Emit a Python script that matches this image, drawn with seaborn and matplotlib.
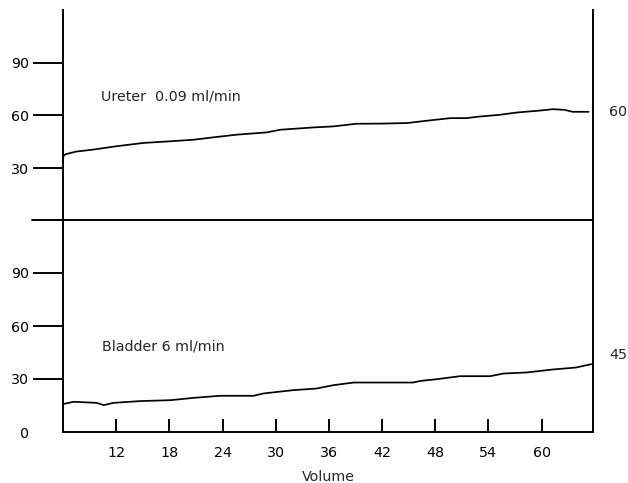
import numpy as np
import pandas as pd
import matplotlib
matplotlib.use("Agg")
import matplotlib.pyplot as plt
import seaborn as sns

# Ureter pressure trace (top panel)
ureter_volume = [6.0, 6.05, 6.3, 7.5, 9.4, 12.0, 15.1, 18.0, 20.7, 23.0, 25.6, 29.0, 30.5, 34.2, 36.5, 39.1,
                 42.0, 44.8, 47.0, 49.7, 51.5, 53.0, 55.3, 57.2, 59.8, 61.3, 62.6, 63.5, 65.3]
ureter_value = [34.5, 37.0, 38.0, 39.5, 40.6, 42.5, 44.4, 45.3, 46.2, 47.6, 49.1, 50.4, 51.9, 53.2, 53.8, 55.3,
                55.4, 55.7, 57.0, 58.5, 58.5, 59.4, 60.4, 61.7, 62.8, 63.6, 63.2, 62.1, 62.1]

# Bladder pressure trace (bottom panel)
bladder_volume = [6.0, 7.2, 9.8, 10.6, 11.7, 14.7, 18.1, 20.7, 23.7, 27.5, 28.6, 32.0, 34.6, 36.5, 38.8,
                  45.5, 46.3, 48.2, 50.8, 54.2, 55.7, 58.3, 61.3, 63.9, 65.6]
bladder_value = [15.8, 17.1, 16.5, 15.2, 16.5, 17.5, 18.0, 19.3, 20.5, 20.5, 21.8, 23.7, 24.6, 26.5, 28.0,
                 28.0, 28.9, 29.9, 31.6, 31.6, 33.1, 33.7, 35.4, 36.5, 38.4]

x_ticks = [12, 18, 24, 30, 36, 42, 48, 54, 60]
top_yticks = [30, 60, 90]
top_ylabels = ["30", "60", "90"]
bottom_yticks = [0, 30, 60, 90]
bottom_ylabels = ["0", "30", "60", "90"]

ureter_label = "Ureter  0.09 ml/min"
bladder_label = "Bladder 6 ml/min"
ureter_end_label = "60"
bladder_end_label = "45"
x_label = "Volume"

sns.set_style("white")
plt.rcParams['font.family'] = ['DejaVu Sans']
FS = 10.3

ureter_df = pd.DataFrame({"Volume": ureter_volume, "Pressure": ureter_value})
bladder_df = pd.DataFrame({"Volume": bladder_volume, "Pressure": bladder_value})

fig = plt.figure(figsize=(6.28, 4.83), dpi=100)
W, H = 628, 483
left, right = 63 / W, 593 / W
ax_top = fig.add_axes([left, 1 - 221 / H, right - left, 211 / H])
ax_bot = fig.add_axes([left, 1 - 432 / H, right - left, 212 / H])

lw_axis = 1.4
for ax, df in [(ax_top, ureter_df), (ax_bot, bladder_df)]:
    sns.lineplot(data=df, x="Volume", y="Pressure", ax=ax, color="black", linewidth=1.25)
    ax.set_xlim(6, 65.8)
    ax.set_ylim(0, 120)
    ax.set_xlabel("")
    ax.set_ylabel("")
    for s in ["left", "right", "bottom"]:
        ax.spines[s].set_visible(True)
        ax.spines[s].set_color("black")
        ax.spines[s].set_linewidth(lw_axis)
    ax.spines["top"].set_visible(False)
    ax.tick_params(axis="y", left=True, right=False, direction="out", length=21.5, width=lw_axis,
                   pad=3, labelsize=FS, colors="black")

ax_top.set_yticks(top_yticks)
ax_top.set_yticklabels(top_ylabels)
ax_top.set_xticks([])
ax_top.spines["bottom"].set_visible(False)

ax_bot.set_yticks(bottom_yticks)
ax_bot.set_yticklabels(bottom_ylabels)
ax_bot.yaxis.get_major_ticks()[0].tick1line.set_visible(False)
ax_bot.set_xticks(x_ticks)
ax_bot.tick_params(axis="x", bottom=True, top=False, direction="in", length=9.5, width=lw_axis,
                   pad=10, labelsize=FS, colors="black")
ax_bot.set_xlabel(x_label, fontsize=FS, labelpad=7)

# bottom panel's top edge acts as the separator, extended to the left
ax_bot.spines["top"].set_visible(True)
ax_bot.spines["top"].set_linewidth(lw_axis)
ax_bot.spines["top"].set_color("black")
fig.add_artist(plt.Line2D([32 / W, 63 / W], [1 - 220 / H, 1 - 220 / H],
                          color="black", linewidth=lw_axis))

ax_top.text((101 - 63) / 530, (221 - 97) / 211, ureter_label, transform=ax_top.transAxes,
            fontsize=FS, va="center")
ax_bot.text((102 - 63) / 530, (432 - 346) / 212, bladder_label, transform=ax_bot.transAxes,
            fontsize=FS, va="center")
ax_top.text((609 - 63) / 530, (221 - 112) / 211, ureter_end_label, transform=ax_top.transAxes,
            fontsize=FS, va="center")
ax_bot.text((609 - 63) / 530, (432 - 355) / 212, bladder_end_label, transform=ax_bot.transAxes,
            fontsize=FS, va="center")

fig.savefig("out.png", dpi=100, facecolor="white")
